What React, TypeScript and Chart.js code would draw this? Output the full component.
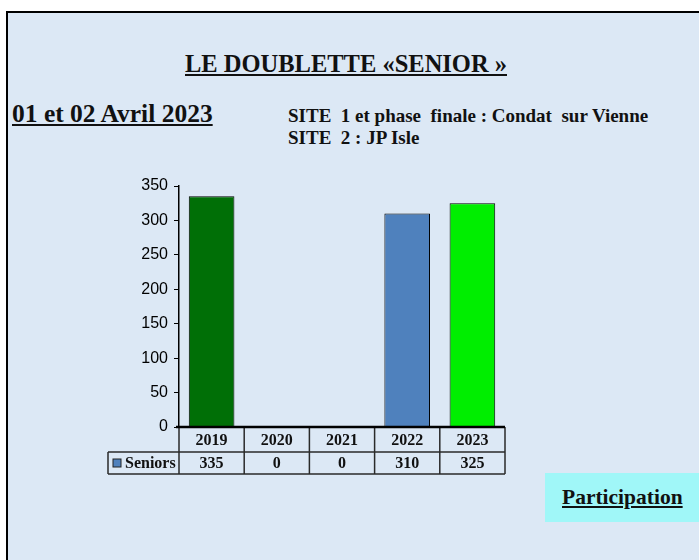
import React, { useEffect, useRef } from "react";
import { Chart, registerables } from "chart.js";

Chart.register(...registerables);

const years = ["2019", "2020", "2021", "2022", "2023"];
const seniors = [335, 0, 0, 310, 325];
const barColors = ["#006f06", "#4f81bd", "#4f81bd", "#4f81bd", "#00ee00"];
const seriesName = "Seniors";
const yTicksMax = 350;
const yStep = 50;

const tablePlugin = {
  id: "dataTable",
  afterDraw(chart: any) {
    const ctx = chart.ctx;
    const xs = chart.scales.x;
    const area = chart.chartArea;
    const n = years.length;
    const step = (area.right - area.left) / n;
    const top = area.bottom;
    const mid = top + 25;
    const bot = top + 47;
    const headerLeft = 108;
    ctx.save();
    ctx.strokeStyle = "#2a2a2a";
    ctx.lineWidth = 1.5;
    ctx.beginPath();
    for (let i = 0; i <= n; i++) {
      const bx = i === 0 ? area.left : xs.getPixelForValue(i - 1) + step / 2;
      ctx.moveTo(bx, top);
      ctx.lineTo(bx, bot);
    }
    ctx.moveTo(headerLeft, mid);
    ctx.lineTo(headerLeft, bot);
    ctx.moveTo(headerLeft, mid);
    ctx.lineTo(area.right, mid);
    ctx.moveTo(headerLeft, bot);
    ctx.lineTo(area.right, bot);
    ctx.stroke();
    ctx.strokeStyle = "#000";
    ctx.lineWidth = 2.5;
    ctx.beginPath();
    ctx.moveTo(area.left - 3, top);
    ctx.lineTo(area.right, top);
    ctx.stroke();
    ctx.fillStyle = "#111";
    ctx.font = "bold 16px 'Liberation Serif', 'Times New Roman', serif";
    ctx.textAlign = "center";
    ctx.textBaseline = "middle";
    for (let i = 0; i < n; i++) {
      const cx = xs.getPixelForValue(i);
      ctx.fillText(years[i], cx, (top + mid) / 2 + 1);
      ctx.fillText(String(seniors[i]), cx, (mid + bot) / 2 + 1);
    }
    ctx.fillStyle = "#4f81bd";
    ctx.fillRect(113, mid + 7, 8, 8);
    ctx.lineWidth = 1;
    ctx.strokeStyle = "#222";
    ctx.strokeRect(113, mid + 7, 8, 8);
    ctx.fillStyle = "#111";
    ctx.textAlign = "left";
    ctx.fillText(seriesName, 125, (mid + bot) / 2 + 1);
    ctx.restore();
  },
};

function BarChart() {
  const ref = useRef<HTMLCanvasElement | null>(null);
  useEffect(() => {
    if (!ref.current) return;
    const chart = new Chart(ref.current, {
      type: "bar",
      data: {
        labels: years,
        datasets: [
          {
            label: seriesName,
            data: seniors,
            backgroundColor: barColors,
            borderColor: "#000",
            borderWidth: 1,
            barPercentage: 0.7,
            categoryPercentage: 1,
          },
        ],
      },
      options: {
        responsive: false,
        animation: false,
        devicePixelRatio: 1,
        layout: { padding: { left: 0, top: 186, right: 194, bottom: 133 } },
        plugins: { legend: { display: false }, tooltip: { enabled: false } },
        scales: {
          x: { display: false },
          y: {
            min: 0,
            max: yTicksMax,
            afterFit: (s: any) => {
              s.width = 179;
            },
            ticks: {
              stepSize: yStep,
              color: "#000",
              padding: 6,
              font: { family: "'Liberation Sans', Arial, sans-serif", size: 16 },
            },
            grid: {
              drawOnChartArea: false,
              drawTicks: true,
              tickLength: 5,
              color: "#000",
            },
            border: { display: true, color: "#000", width: 1.5 },
          },
        },
      },
      plugins: [tablePlugin],
    });
    return () => chart.destroy();
  }, []);
  return (
    <canvas
      ref={ref}
      width={699}
      height={560}
      style={{ position: "absolute", left: 0, top: 0, width: 699, height: 560 }}
    />
  );
}

const serif = "'Liberation Serif', 'Times New Roman', serif";

export default function App() {
  return (
    <div
      style={{
        position: "fixed",
        left: 0,
        top: 0,
        width: 699,
        height: 560,
        background: "#fff",
        overflow: "hidden",
      }}
    >
      <div
        style={{
          position: "absolute",
          left: 6,
          top: 11,
          width: 720,
          height: 580,
          background: "#dce8f5",
          borderTop: "2px solid #000",
          borderLeft: "2px solid #000",
        }}
      />
      <div
        style={{
          position: "absolute",
          left: 185,
          top: 51,
          fontFamily: serif,
          fontWeight: "bold",
          fontSize: 24.5,
          lineHeight: "25px",
          textDecoration: "underline",
          color: "#111",
          whiteSpace: "pre",
        }}
      >
        {"LE DOUBLETTE «SENIOR »"}
      </div>
      <div
        style={{
          position: "absolute",
          left: 12,
          top: 101,
          fontFamily: serif,
          fontWeight: "bold",
          fontSize: 25.5,
          lineHeight: "25px",
          textDecoration: "underline",
          color: "#111",
          whiteSpace: "pre",
        }}
      >
        {"01 et 02 Avril 2023"}
      </div>
      <div
        style={{
          position: "absolute",
          left: 288,
          top: 105,
          fontFamily: serif,
          fontWeight: "bold",
          fontSize: 19,
          lineHeight: "22px",
          color: "#111",
          whiteSpace: "pre",
        }}
      >
        {"SITE  1 et phase  finale : Condat  sur Vienne\nSITE  2 : JP Isle"}
      </div>
      <div
        style={{
          position: "absolute",
          left: 545,
          top: 473,
          width: 160,
          height: 49,
          background: "#a0f7f8",
        }}
      >
        <div
          style={{
            position: "absolute",
            left: 17,
            top: 14,
            fontFamily: serif,
            fontWeight: "bold",
            fontSize: 21.5,
            lineHeight: "21px",
            textDecoration: "underline",
            color: "#111",
            whiteSpace: "pre",
          }}
        >
          Participation
        </div>
      </div>
      <BarChart />
    </div>
  );
}
